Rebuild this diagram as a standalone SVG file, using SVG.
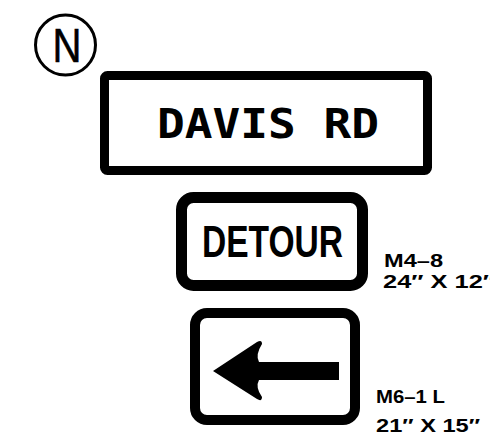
<svg xmlns="http://www.w3.org/2000/svg" width="490" height="441" viewBox="0 0 490 441">
<style>
.sign{fill:#fff;stroke:#000}
.lbl{font-family:"Liberation Sans",Arial,sans-serif;font-weight:bold;font-size:19px;fill:#000}
</style>
<rect width="490" height="441" fill="#fff"/>
<g id="north">
<circle cx="65.5" cy="45" r="30" fill="none" stroke="#000" stroke-width="3"/>
<text x="67" y="62" text-anchor="middle" font-family="Liberation Sans, Arial, sans-serif" font-size="48" textLength="29" lengthAdjust="spacingAndGlyphs" stroke="#000" stroke-width="0.6">N</text>
</g>
<g id="davis-rd">
<rect class="sign" x="104.5" y="75.5" width="323" height="95" rx="3" stroke-width="9"/>
<text x="157" y="138" font-family="DejaVu Sans Mono, monospace" font-weight="bold" font-size="41" textLength="222" lengthAdjust="spacingAndGlyphs">DAVIS RD</text>
</g>
<g id="detour">
<rect class="sign" x="181.5" y="197.5" width="181" height="88" rx="12" stroke-width="11"/>
<text x="202" y="257" font-family="Liberation Sans, Arial, sans-serif" font-weight="bold" font-size="44" textLength="141" lengthAdjust="spacingAndGlyphs">DETOUR</text>
</g>
<g id="detour-label">
<text class="lbl" x="384" y="267" textLength="59" lengthAdjust="spacingAndGlyphs">M4–8</text>
<text class="lbl" x="383" y="288" textLength="112" lengthAdjust="spacingAndGlyphs">24″ X 12″</text>
</g>
<g id="arrow-sign">
<rect class="sign" x="195" y="313" width="160" height="107" rx="12" stroke-width="10"/>
<path d="M213,371 L257,342 Q262,339 262,344 Q255,355 259,362 L339,362 L339,380 L259,380 Q255,387 262,397 Q262,402 257,399 Z" fill="#000"/>
</g>
<g id="arrow-label">
<text class="lbl" x="376" y="403" textLength="69" lengthAdjust="spacingAndGlyphs">M6–1 L</text>
<text class="lbl" x="376" y="432" textLength="104" lengthAdjust="spacingAndGlyphs">21″ X 15″</text>
</g>
</svg>
